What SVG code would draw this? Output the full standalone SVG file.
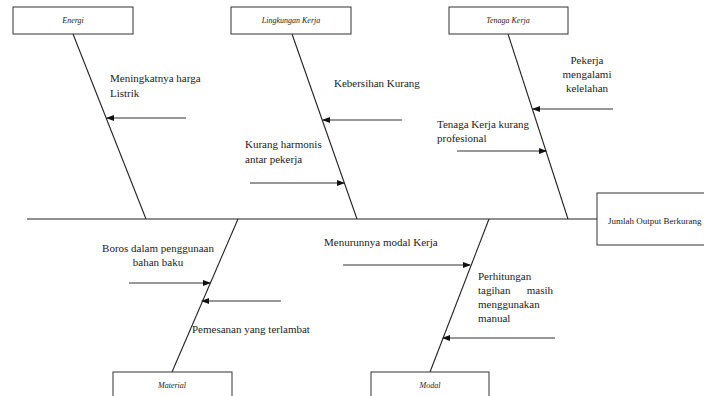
<svg xmlns="http://www.w3.org/2000/svg" width="704" height="396" viewBox="0 0 704 396">
<style>
.box{fill:#fff;stroke:#333;stroke-width:1}
.bone{stroke:#222;stroke-width:1.1;fill:none}
.arr{stroke:#333;stroke-width:1.1;fill:none;marker-end:url(#ah)}
.t{font-family:"Liberation Serif","Times New Roman",serif;font-size:11px;fill:#222}
.bl{font-family:"Liberation Serif","Times New Roman",serif;font-size:8px;font-style:italic;fill:#222;text-anchor:middle}
.m{text-anchor:middle}
</style>
<defs>
<marker id="ah" markerWidth="8" markerHeight="6" refX="7" refY="3" orient="auto" markerUnits="userSpaceOnUse">
<path d="M0,0 L8,3 L0,6 Z" fill="#111"/>
</marker>
</defs>
<rect width="704" height="396" fill="#fff"/>
<g id="connectors">
<line class="bone" x1="27" y1="219" x2="597" y2="219"/>
<line class="bone" x1="73" y1="34" x2="146" y2="219"/>
<line class="bone" x1="292" y1="34" x2="357" y2="219"/>
<line class="bone" x1="508" y1="34" x2="568" y2="219"/>
<line class="bone" x1="172" y1="372" x2="238" y2="219"/>
<line class="bone" x1="430" y1="372" x2="489" y2="219"/>
<line class="arr" x1="186" y1="118" x2="107" y2="118"/>
<line class="arr" x1="402" y1="120" x2="323" y2="120"/>
<line class="arr" x1="250" y1="183" x2="344" y2="183"/>
<line class="arr" x1="613" y1="109" x2="533" y2="109"/>
<line class="arr" x1="457" y1="151" x2="546" y2="151"/>
<line class="arr" x1="129" y1="283" x2="210" y2="283"/>
<line class="arr" x1="281" y1="301" x2="202" y2="301"/>
<line class="arr" x1="343" y1="265" x2="470" y2="265"/>
<line class="arr" x1="555" y1="338" x2="443" y2="338"/>
</g>
<g id="energi">
<rect class="box" x="13" y="7" width="120" height="27"/>
<text class="bl" x="73" y="23">Energi</text>
</g>
<g id="lingkungan">
<rect class="box" x="231" y="7" width="120" height="27"/>
<text class="bl" x="291" y="23">Lingkungan Kerja</text>
</g>
<g id="tenaga">
<rect class="box" x="449" y="7" width="119" height="27"/>
<text class="bl" x="508" y="23">Tenaga Kerja</text>
</g>
<g id="material">
<rect class="box" x="113" y="372" width="119" height="30"/>
<text class="bl" x="172" y="388">Material</text>
</g>
<g id="modal">
<rect class="box" x="371" y="372" width="118" height="30"/>
<text class="bl" x="430" y="388">Modal</text>
</g>
<g id="effect">
<rect class="box" x="597" y="193" width="110" height="52"/>
<text class="t" x="608" y="224" style="font-size:9px">Jumlah Output Berkurang</text>
</g>
<g id="labels">
<text class="t" x="110" y="82">Meningkatnya harga</text>
<text class="t" x="110" y="97">Listrik</text>
<text class="t" x="334" y="87">Kebersihan Kurang</text>
<text class="t" x="245" y="148">Kurang harmonis</text>
<text class="t" x="245" y="163">antar pekerja</text>
<text class="t m" x="587" y="64">Pekerja</text>
<text class="t m" x="587" y="78">mengalami</text>
<text class="t m" x="587" y="92">kelelahan</text>
<text class="t" x="437" y="128">Tenaga Kerja kurang</text>
<text class="t" x="437" y="142">profesional</text>
<text class="t m" x="158" y="252">Boros dalam penggunaan</text>
<text class="t m" x="158" y="266">bahan baku</text>
<text class="t" x="192" y="333">Pemesanan yang terlambat</text>
<text class="t" x="324" y="246">Menurunnya modal Kerja</text>
<text class="t" x="478" y="280">Perhitungan</text>
<text class="t" x="478" y="294">tagihan</text>
<text class="t" x="553" y="294" text-anchor="end">masih</text>
<text class="t" x="478" y="308">menggunakan</text>
<text class="t" x="478" y="322">manual</text>
</g>
</svg>
